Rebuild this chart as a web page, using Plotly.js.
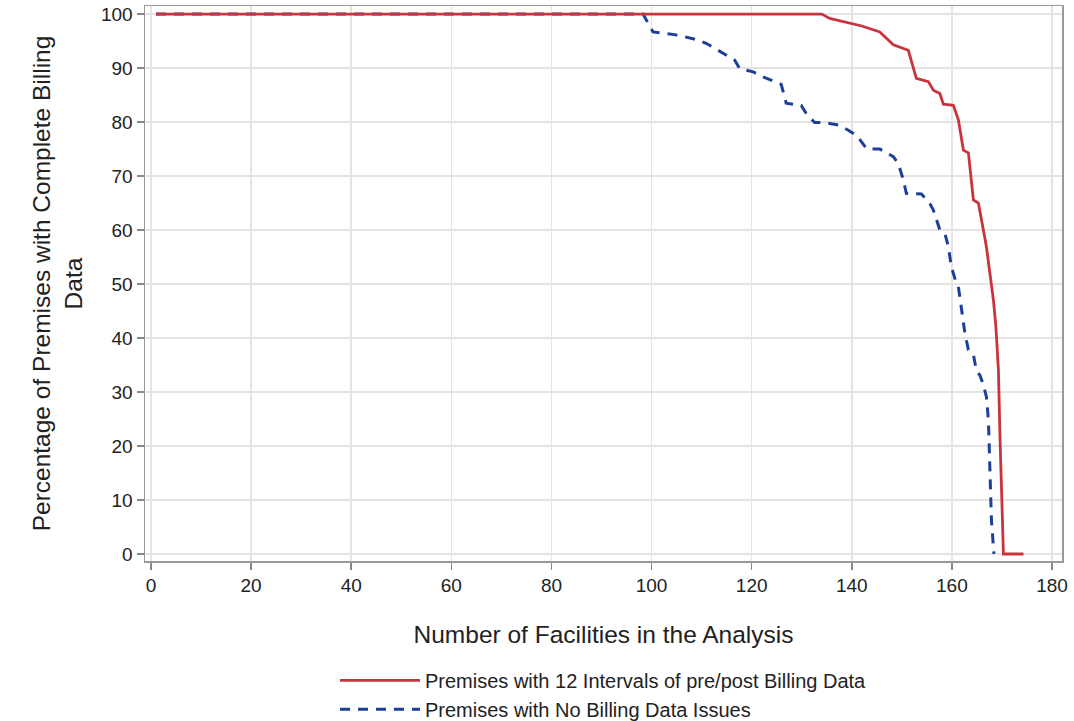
<!DOCTYPE html>
<html>
<head>
<meta charset="utf-8">
<script src="https://cdn.plot.ly/plotly-3.0.1.min.js"></script>
<style>html,body{margin:0;padding:0;background:#fff;}#chart{width:1074px;height:721px;}</style>
</head>
<body>
<div id="chart"></div>
<script>
// Series: Premises with 12 Intervals of pre/post Billing Data
const redX = [1, 134, 135.6, 139.6, 142, 145.6, 148.3, 151.3, 152.9, 155.3, 156.3, 157.6, 158.3, 160.3, 161.3, 162.3, 163.3, 164.3, 165.3, 166.9, 167.6, 168.3, 168.8, 169.3, 169.6, 170, 170.3, 174.3];
const redY = [100, 100, 99.2, 98.3, 97.8, 96.7, 94.3, 93.3, 88.1, 87.5, 85.9, 85.3, 83.3, 83.1, 80.4, 74.8, 74.3, 65.6, 65.0, 56.9, 52, 47, 42, 34, 22, 8, 0, 0];
// Series: Premises with No Billing Data Issues
const blueX = [1, 98.3, 100.3, 102.3, 104.6, 106.6, 109.3, 110.9, 113.3, 114.6, 116.6, 117.6, 120.3, 121.9, 124.6, 125.9, 126.9, 129.9, 130.9, 132.6, 134.6, 137.6, 139.3, 141, 143, 145.6, 148.3, 149.3, 150.3, 150.9, 153.9, 155.6, 156.3, 156.9, 157.6, 158.6, 159.3, 159.9, 160.9, 161.3, 161.9, 162.6, 163.3, 164.3, 164.9, 165.6, 166.3, 166.9, 167.3, 167.6, 167.9, 168.4];
const blueY = [100, 100, 96.7, 96.5, 96.2, 95.8, 95.2, 94.6, 93.3, 92.7, 91.5, 89.9, 89.3, 88.5, 87.5, 87, 83.5, 83.1, 81.6, 79.9, 79.9, 79.4, 78.5, 77.5, 75, 75, 73.6, 72.3, 69.3, 66.8, 66.7, 64.9, 63.7, 61.9, 60, 59.4, 56.9, 53.2, 50.1, 49.5, 45.2, 40.9, 37.8, 36.9, 34, 33.1, 31.3, 29.1, 24.8, 15.6, 6.3, 0];
const seriesNames = ["Premises with 12 Intervals of pre/post Billing Data", "Premises with No Billing Data Issues"];
const xTicks = [0, 20, 40, 60, 80, 100, 120, 140, 160, 180];
const yTicks = [0, 10, 20, 30, 40, 50, 60, 70, 80, 90, 100];

const font = "Liberation Sans, Arial, sans-serif";
const traces = [
  {x: blueX, y: blueY, name: seriesNames[1], mode: "lines", legendrank: 2,
   line: {color: "#1E3F99", width: 3, dash: "10px,8px"}},
  {x: redX, y: redY, name: seriesNames[0], mode: "lines", legendrank: 1,
   line: {color: "#C9343C", width: 2.8}}
];
const axisCommon = {
  showgrid: true, gridcolor: "#e4e4e4", gridwidth: 1.5,
  zeroline: false, showline: true, linecolor: "#999", linewidth: 1.5, mirror: true,
  ticks: "outside", ticklen: 7, tickwidth: 1.5, tickcolor: "#888",
  tickfont: {family: font, size: 19, color: "#222"}
};
const layout = {
  width: 1074, height: 721,
  margin: {l: 145, r: 12, t: 6, b: 160},
  paper_bgcolor: "#fff", plot_bgcolor: "#fff",
  font: {family: font, color: "#222"},
  showlegend: true,
  legend: {x: 0.5, xanchor: "center", yref: "container", y: 0.0835, yanchor: "top", orientation: "v",
           itemwidth: 80, font: {family: font, size: 20, color: "#222"}, tracegroupgap: 0},
  xaxis: Object.assign({}, axisCommon, {
    range: [-1.2, 182], tickvals: xTicks, ticklabelstandoff: 0,
    title: {text: "Number of Facilities in the Analysis", font: {family: font, size: 24.5, color: "#222"}, standoff: 30}
  }),
  yaxis: Object.assign({}, axisCommon, {
    range: [-1.3, 101.5], tickvals: yTicks,
    title: {text: "Percentage of Premises with Complete Billing<br>Data", font: {family: font, size: 24.5, color: "#222"}, standoff: 11}
  })
};
Plotly.newPlot("chart", traces, layout, {displayModeBar: false, staticPlot: true});
</script>
</body>
</html>
